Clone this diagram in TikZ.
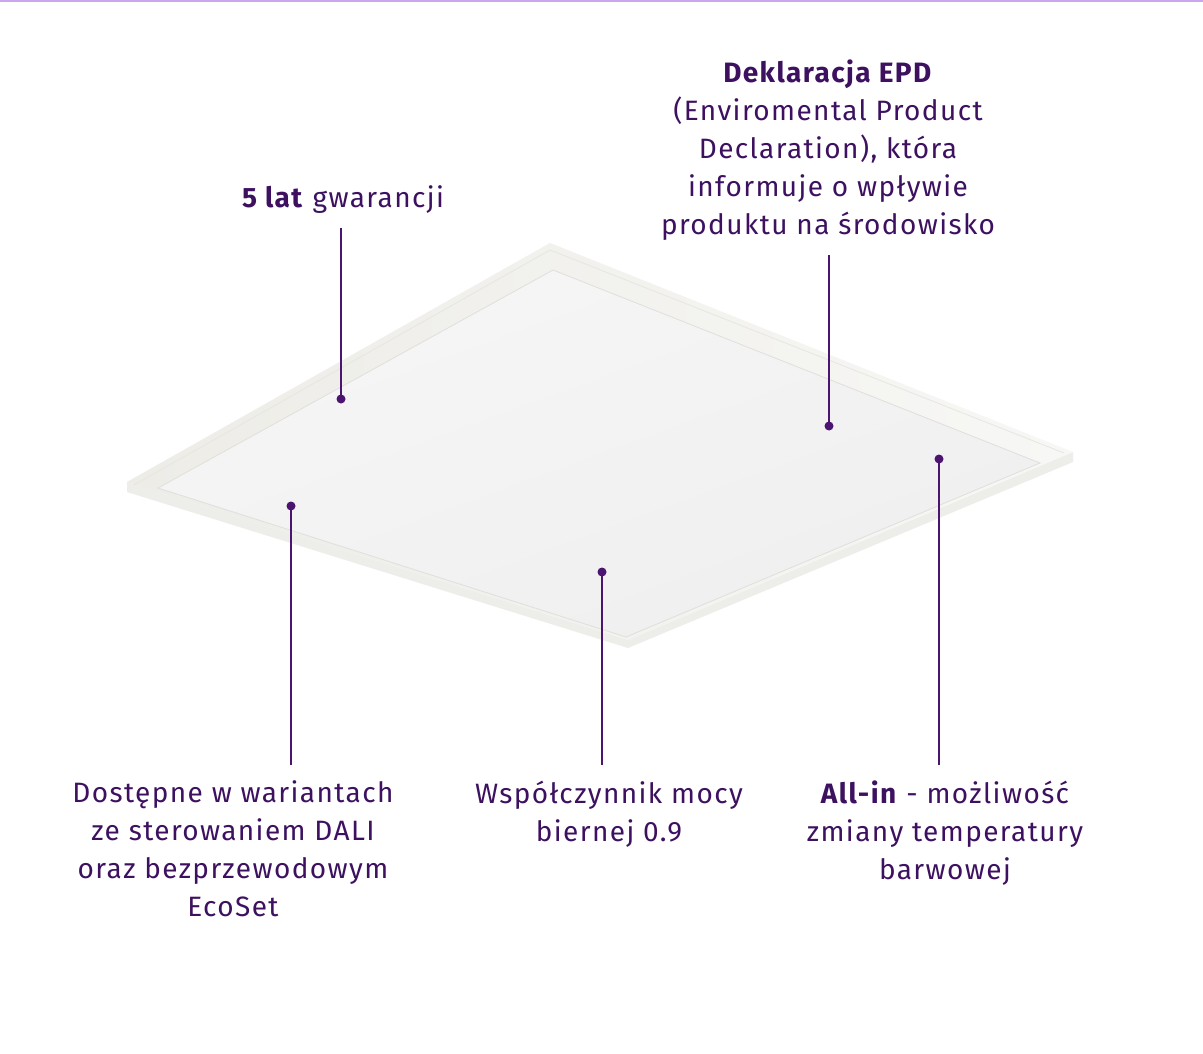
\documentclass[tikz,border=0pt]{standalone}
\usepackage{fontspec}
\setmainfont{Fira Sans}[LetterSpace=5]
\definecolor{txtc}{HTML}{3D1160}
\definecolor{linec}{HTML}{4A1470}
\definecolor{topbar}{HTML}{C9A6EE}
\definecolor{frameL}{HTML}{EDECE7}
\definecolor{frameR}{HTML}{F7F7F5}
\definecolor{sidec}{HTML}{EDEDEA}
\definecolor{lipc}{HTML}{E7E6E1}
\definecolor{panelA}{HTML}{EFEFEF}
\definecolor{panelB}{HTML}{F6F6F6}
\definecolor{seamc}{HTML}{DFDFDC}
\begin{document}
\begin{tikzpicture}[x=1pt,y=-1pt,
  lbl/.style={text=txtc,align=center,inner sep=0pt,font=\fontsize{28}{38}\selectfont},
  dot/.style={circle,fill=linec,inner sep=0pt,minimum size=9pt},
  conn/.style={draw=linec,line width=1.8pt}]
\useasboundingbox (0,0) rectangle (1203,1054);
\fill[white] (0,0) rectangle (1203,1054);
\fill[topbar] (0,0) rectangle (1203,2.5);
% panel
\fill[sidec] (127,482) -- (628,640) -- (1073,452) -- (1073,462) -- (628,648) -- (127,492) -- cycle;
\shade[left color=frameL,right color=frameR] (127,482) -- (550,243) -- (1073,452) -- (628,640) -- cycle;
\draw[lipc,line width=0.8pt] (134,485) -- (550,250) -- (1064,453);
\shade[top color=panelB,bottom color=panelA,shading angle=20,draw=seamc,line width=0.8pt]
  (158,488) -- (553,270) -- (1040,463) -- (626,637) -- cycle;
% texts
\node[lbl,anchor=north] (t1) at (343,185.5) {\textbf{5 lat} gwarancji};
\node[lbl,anchor=north] (t2) at (828,59.5) {\textbf{Deklaracja EPD}\\(Enviromental Product\\Declaration), która\\informuje o wpływie\\produktu na środowisko};
\node[lbl,anchor=north] (t3) at (233,780.5) {Dostępne w wariantach\\ze sterowaniem DALI\\oraz bezprzewodowym\\EcoSet};
\node[lbl,anchor=north] (t4) at (609,780.5) {Współczynnik mocy\\biernej 0.9};
\node[lbl,anchor=north] (t5) at (945,780.5) {\textbf{All-in} - możliwość\\zmiany temperatury\\barwowej};
% dots
\node[dot] (d1) at (341,399) {};
\node[dot] (d2) at (829,426) {};
\node[dot] (d3) at (291,506) {};
\node[dot] (d4) at (602,572) {};
\node[dot] (d5) at (939,459) {};
% connectors
\coordinate (c1) at (341,228);
\coordinate (c2) at (829,255);
\coordinate (c3) at (291,765);
\coordinate (c4) at (602,765);
\coordinate (c5) at (939,765);
\draw[conn] (c1) -- (d1.center);
\draw[conn] (c2) -- (d2.center);
\draw[conn] (c3) -- (d3.center);
\draw[conn] (c4) -- (d4.center);
\draw[conn] (c5) -- (d5.center);
\end{tikzpicture}
\end{document}
